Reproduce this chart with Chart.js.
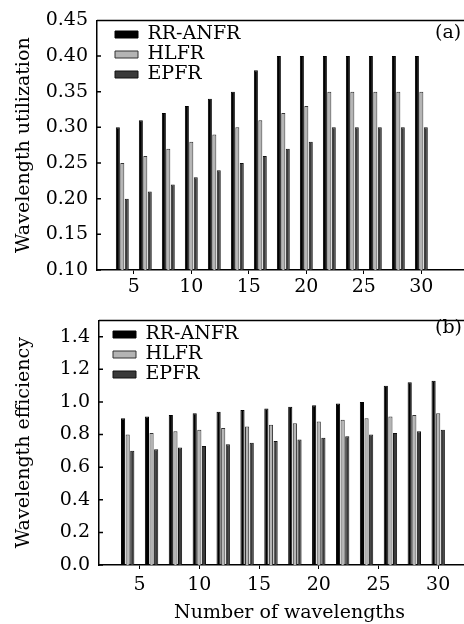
<!DOCTYPE html>
<html>
<head>
<meta charset="utf-8">
<script src="https://cdn.jsdelivr.net/npm/chart.js@4.4.0/dist/chart.umd.min.js"></script>
<style>
html, body { margin: 0; padding: 0; background: #fff; overflow: hidden; width: 464px; height: 624px; }
canvas { position: absolute; left: 0; }
#chartA { top: 0; }
#chartB { top: 300px; }
</style>
</head>
<body>
<canvas id="chartA" width="480" height="300"></canvas>
<canvas id="chartB" width="480" height="324"></canvas>
<script>
// number of wavelengths (x positions of the bar groups)
const wavelengths = [4, 6, 8, 10, 12, 14, 16, 18, 20, 22, 24, 26, 28, 30];
const seriesNames = ['RR-ANFR', 'HLFR', 'EPFR'];

// (a) wavelength utilization
const utilRR   = [0.30, 0.31, 0.32, 0.33, 0.34, 0.35, 0.38, 0.40, 0.40, 0.40, 0.40, 0.40, 0.40, 0.40];
const utilHLFR = [0.25, 0.26, 0.27, 0.28, 0.29, 0.30, 0.31, 0.32, 0.33, 0.35, 0.35, 0.35, 0.35, 0.35];
const utilEPFR = [0.20, 0.21, 0.22, 0.23, 0.24, 0.25, 0.26, 0.27, 0.28, 0.30, 0.30, 0.30, 0.30, 0.30];

// (b) wavelength efficiency
const effRR   = [0.90, 0.91, 0.92, 0.93, 0.94, 0.95, 0.96, 0.97, 0.98, 0.99, 1.00, 1.10, 1.12, 1.13];
const effHLFR = [0.80, 0.81, 0.82, 0.83, 0.84, 0.85, 0.86, 0.87, 0.88, 0.89, 0.90, 0.91, 0.92, 0.93];
const effEPFR = [0.70, 0.71, 0.72, 0.73, 0.74, 0.75, 0.76, 0.77, 0.78, 0.79, 0.80, 0.81, 0.82, 0.83];

const xTicks = [5, 10, 15, 20, 25, 30];
const utilTicks = [0.10, 0.15, 0.20, 0.25, 0.30, 0.35, 0.40, 0.45];
const effTicks = [0.0, 0.2, 0.4, 0.6, 0.8, 1.0, 1.2, 1.4];

Chart.defaults.font.family = "'DejaVu Serif', serif";
Chart.defaults.font.size = 19;
Chart.defaults.color = '#000';

const fills = ['#000000', '#b4b4b4', '#3a3a3a'];
const borders = ['#000000', '#333333', '#111111'];

function makeSets(lists) {
  return lists.map((vals, i) => ({
    label: seriesNames[i],
    data: vals.map((v, j) => ({ x: wavelengths[j], y: v })),
    backgroundColor: fills[i],
    borderColor: borders[i],
    borderWidth: 1,
    categoryPercentage: 0.58,
    barPercentage: 0.9
  }));
}

// frame top line, inner y tick marks, panel tag, legend offset
const extras = {
  id: 'extras',
  afterLayout(chart, args, opts) {
    chart.legend.left += opts.legendDx;
    chart.legend.top += opts.legendDy;
  },
  afterDraw(chart, args, opts) {
    const ctx = chart.ctx;
    const a = chart.chartArea;
    const y = chart.scales.y;
    ctx.save();
    ctx.strokeStyle = '#000';
    ctx.lineWidth = 1.5;
    ctx.beginPath();
    ctx.moveTo(a.left, a.top);
    ctx.lineTo(a.right, a.top);
    y.ticks.forEach((t, i) => {
      const py = y.getPixelForTick(i);
      ctx.moveTo(a.left, py);
      ctx.lineTo(a.left + 4, py);
    });
    ctx.stroke();
    ctx.fillStyle = '#000';
    ctx.font = "19px 'DejaVu Serif', serif";
    ctx.textAlign = 'left';
    ctx.textBaseline = 'middle';
    ctx.fillText(opts.tag, 435, opts.tagY);
    ctx.restore();
  }
};

function makeChart(id, lists, cfg) {
  return new Chart(document.getElementById(id), {
    type: 'bar',
    data: { datasets: makeSets(lists) },
    plugins: [extras],
    options: {
      responsive: false,
      animation: false,
      layout: { padding: { top: cfg.top, left: 0, right: 0, bottom: 0 } },
      plugins: {
        tooltip: { enabled: false },
        legend: {
          position: 'chartArea',
          align: 'start',
          labels: { boxWidth: 23, boxHeight: 7, padding: 1, font: { size: 19 } }
        },
        extras: { legendDx: cfg.legendDx, legendDy: cfg.legendDy, tag: cfg.tag, tagY: cfg.tagY }
      },
      scales: {
        x: {
          type: 'linear',
          min: cfg.xMin,
          max: cfg.xMax,
          offset: false,
          afterBuildTicks: s => { s.ticks = xTicks.map(v => ({ value: v })); },
          afterFit: s => { s.height = cfg.xHeight; },
          grid: { display: true, drawOnChartArea: false, drawTicks: true, tickLength: 4, color: '#000', offset: false },
          border: { display: true, color: '#000', width: 1.5 },
          ticks: { padding: cfg.xPad, maxRotation: 0, callback: v => String(v) },
          title: { display: !!cfg.xTitle, text: cfg.xTitle || '', padding: 0 }
        },
        y: {
          min: cfg.yMin,
          max: cfg.yMax,
          afterBuildTicks: s => { s.ticks = cfg.yTicks.map(v => ({ value: v })); },
          afterFit: s => { s.width = cfg.yWidth; },
          grid: { display: false, drawTicks: false },
          border: { display: true, color: '#000', width: 1.5 },
          ticks: { padding: 9, callback: v => v.toFixed(cfg.dec) },
          title: { display: true, text: cfg.yTitle, padding: { top: 13, bottom: 0 } }
        }
      }
    }
  });
}

makeChart('chartA', [utilRR, utilHLFR, utilEPFR], {
  top: 15, xMin: 1.8, xMax: 35.1, xHeight: 30, xPad: 2, yWidth: 97,
  yMin: 0.10, yMax: 0.45, yTicks: utilTicks, dec: 2,
  yTitle: 'Wavelength utilization', legendDx: 17, legendDy: 24, tag: '(a)', tagY: 33
});

makeChart('chartB', [effRR, effHLFR, effEPFR], {
  top: 9, xMin: 1.6, xMax: 33.5, xHeight: 59, xPad: 5, yWidth: 99,
  yMin: 0, yMax: 1.5, yTicks: effTicks, dec: 1,
  yTitle: 'Wavelength efficiency', xTitle: 'Number of wavelengths',
  legendDx: 13, legendDy: 24, tag: '(b)', tagY: 28
});
</script>
</body>
</html>
